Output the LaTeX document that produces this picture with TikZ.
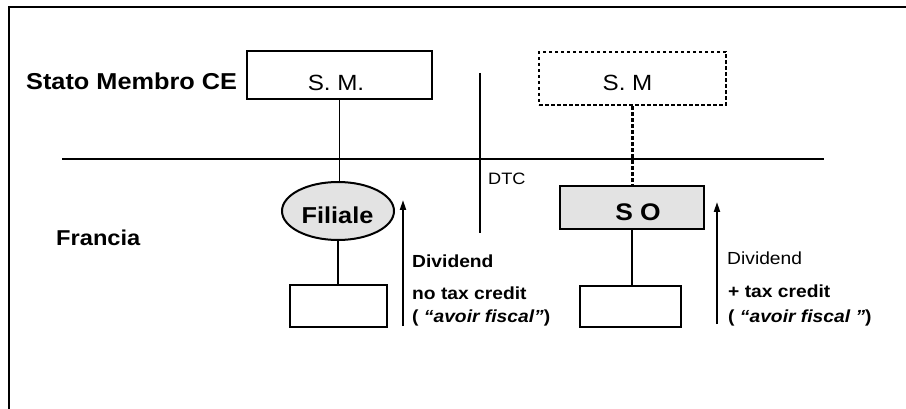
\documentclass[tikz,border=0pt]{standalone}
\usepackage{fontspec}
\setmainfont[FakeStretch=1.1]{Liberation Sans}
\usetikzlibrary{arrows.meta,shapes.geometric}
\begin{document}
\begin{tikzpicture}[x=1pt,y=-1pt,
  frameline/.style={line width=2.4pt},
  box/.style={draw, line width=2pt, inner sep=0pt},
  dbox/.style={draw, line width=2.2pt, dash pattern=on 3.5pt off 2.5pt, inner sep=0pt},
  shade/.style={fill=gray!22},
  link/.style={line width=1.9pt},
  dlink/.style={line width=2.3pt, dash pattern=on 3.5pt off 2.5pt},
  arr/.style={-{Triangle[length=10pt,width=6pt]}, line width=1.9pt},
  lbl/.style={inner sep=0pt, anchor=base west},
  ctr/.style={inner sep=0pt, anchor=base},
  big/.style={font=\bfseries\fontsize{23}{27}\selectfont},
  med/.style={font=\fontsize{22}{26}\selectfont},
  smb/.style={font=\bfseries\fontsize{17.5}{21}\selectfont},
  sm/.style={font=\fontsize{17.5}{21}\selectfont}]
\useasboundingbox (0,0) rectangle (906,409);
% frame
\coordinate (fb) at (9,409);
\coordinate (ftl) at (9,7);
\coordinate (ftr) at (906,7);
\draw[frameline] (fb) -- (ftl) -- (ftr);
% border line between countries
\coordinate (hl) at (62,159);
\coordinate (hr) at (824,159);
\draw[line width=2.8pt] (hl) -- (hr);
% DTC line
\coordinate (dt) at (480,73);
\coordinate (db) at (480,233);
\draw[link] (dt) -- (db);
% boxes
\node[box, minimum width=185pt, minimum height=48pt] (sm1) at (339.5,75) {};
\node[dbox, minimum width=187pt, minimum height=53pt] (sm2) at (632.5,78.5) {};
\node[box, ellipse, shade, minimum width=112pt, minimum height=58pt] (fil) at (338,211) {};
\node[box, shade, minimum width=144pt, minimum height=43pt] (so) at (632,207.5) {};
\node[box, minimum width=97pt, minimum height=42pt] (b1) at (338.5,306) {};
\node[box, minimum width=101pt, minimum height=41pt] (b2) at (630.5,306.5) {};
% texts
\node[lbl, big] (stato) at (26,90) {Stato Membro CE};
\node[lbl, font=\bfseries\fontsize{21.5}{25}\selectfont] (francia) at (56,246) {Francia};
\node[ctr, med] (sm1t) at (336,91) {S.\ M.};
\node[ctr, med] (sm2t) at (627.5,91) {S.\ M};
\node[lbl, font=\fontsize{16.5}{19}\selectfont] (dtc) at (488,185) {DTC};
\node[ctr, big] (filt) at (337.5,224) {Filiale};
\node[ctr, font=\bfseries\fontsize{24}{28}\selectfont] (sot) at (638,221) {S O};
\node[lbl, smb] (d1) at (412,267) {Dividend};
\node[lbl, smb] (t1) at (412,299) {no tax credit};
\node[lbl, smb] (a1) at (412,322) {( \textit{“avoir fiscal”})};
\node[lbl, sm] (d2) at (727,265) {Dividend};
\node[lbl, smb] (t2) at (728,298) {+ tax credit};
\node[lbl, smb] (a2) at (728,322) {( \textit{“avoir fiscal ”})};
% connectors
\draw[link] (sm1.south) -- (sm1.south |- fil.north);
\draw[link] (fil.south) -- (fil.south |- b1.north);
\draw[dlink] (sm2.south) -- (sm2.south |- so.north);
\draw[link] (so.south) -- (so.south |- b2.north);
% arrows
\coordinate (a1s) at (403,326);
\coordinate (a1e) at (403,200);
\coordinate (a2s) at (717,324);
\coordinate (a2e) at (717,202);
\draw[arr] (a1s) -- (a1e);
\draw[arr] (a2s) -- (a2e);
\end{tikzpicture}
\end{document}
